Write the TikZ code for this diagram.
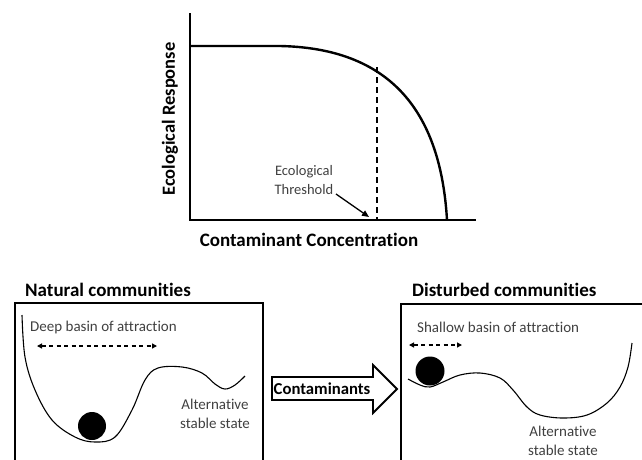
\documentclass[tikz,border=0pt]{standalone}
\usepackage{fontspec}
\setmainfont{Carlito}[Ligatures=NoCommon]
\usetikzlibrary{arrows.meta}
\begin{document}
\begin{tikzpicture}[x=1pt,y=-1pt,
  lbl/.style={font=\fontsize{15}{17}\selectfont, inner sep=0pt, text=black!75},
  bold/.style={font=\fontsize{19}{21}\selectfont\bfseries, inner sep=0pt},
  axis/.style={line width=2.6pt},
  frame/.style={line width=2.2pt},
  land/.style={line width=1.1pt, line join=round},
  basin/.style={line width=1.4pt, dash pattern=on 4pt off 3.5pt, {Triangle[length=5pt,width=5pt]}-{Triangle[length=5pt,width=5pt]}},
  ball/.style={fill=black, draw=none}]
\useasboundingbox (0,0) rectangle (642,459);
% ---------- top chart ----------
\coordinate (ytop) at (190,13);
\coordinate (orig) at (190,220);
\coordinate (xend) at (476,220);
\draw[axis] (ytop) -- (orig) -- (xend);
\draw[line width=2.4pt] (190,46) -- (280,46) .. controls (380,48) and (440,100) .. (447,220);
\coordinate (thtop) at (377,67);
\coordinate (thbot) at (377,220);
\draw[line width=1.6pt, dash pattern=on 6pt off 4pt] (thtop) -- (thbot);
\node[lbl, align=center, font=\fontsize{14.5}{19}\selectfont] (thr) at (304,180) {Ecological\\Threshold};
\coordinate (tharr) at (369,217);
\draw[line width=1.3pt, -{Triangle[length=7pt,width=6pt]}] (336,194) -- (tharr);
\node[bold, rotate=90, font=\fontsize{18.5}{20}\selectfont\bfseries] (ylab) at (170,119) {Ecological Response};
\node[bold] (xlab) at (309,240) {Contaminant Concentration};
% ---------- left panel ----------
\node[bold, anchor=west] (nt) at (25,290) {Natural communities};
\draw[frame] (15,480) -- (15,303) -- (263,303) -- (263,480);
\node[lbl, anchor=west] (deep) at (30,327) {Deep basin of attraction};
\coordinate (dl) at (37,346);
\coordinate (dr) at (157,346);
\draw[basin] (dl) -- (dr);
\draw[land] plot[smooth, tension=0.6] coordinates {(22,315) (25,357) (35,390) (52,420) (75,437) (95,442) (115,437) (132,410) (145,380) (158,368) (182,367) (202,373) (215,384) (225,389) (235,385) (245,376)};
\fill[ball] (92,426) circle (14);
\node[lbl, align=center, font=\fontsize{15}{19}\selectfont] (alt1) at (215,414) {Alternative\\stable state};
% ---------- arrow ----------
\draw[line width=1.8pt, line join=miter, fill=white] (272,377) -- (373,377) -- (373,365) -- (397,389) -- (373,413) -- (373,400) -- (272,400) -- cycle;
\node[bold, font=\fontsize{16.7}{18}\selectfont\bfseries] (cont) at (322,389) {Contaminants};
% ---------- right panel ----------
\node[bold, anchor=west] (dt) at (412,290) {Disturbed communities};
\draw[frame] (401,480) -- (401,304) -- (660,304) -- (660,480);
\node[lbl, anchor=west] (shal) at (417,327) {Shallow basin of attraction};
\coordinate (sl) at (409,345);
\coordinate (sr) at (462,345);
\draw[basin] (sl) -- (sr);
\draw[land] plot[smooth, tension=0.6] coordinates {(408,379) (420,385) (430,387) (443,382) (460,375) (480,373) (500,378) (513,390) (527,407) (540,415) (563,418) (587,415) (607,403) (620,387) (628,367) (632,343)};
\fill[ball] (430,371) circle (14.5);
\node[lbl, align=center, font=\fontsize{15}{19}\selectfont] (alt2) at (563,441) {Alternative\\stable state};
\end{tikzpicture}
\end{document}
